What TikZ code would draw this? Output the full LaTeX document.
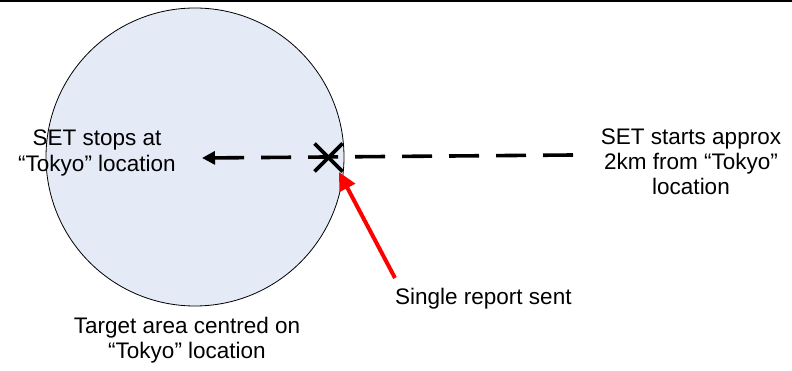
\documentclass[tikz,border=0pt]{standalone}
\usepackage{fontspec}
\setmainfont{Liberation Sans}
\usetikzlibrary{arrows.meta,calc}
\definecolor{areafill}{RGB}{228,234,246}
\tikzset{
  lbl/.style={inner sep=0pt, align=center, font=\fontsize{22.5pt}{25pt}\selectfont},
  area/.style={circle, draw=black, line width=0.8pt, fill=areafill, minimum size=298pt, inner sep=0pt},
  setpath/.style={line width=3.6pt, dash pattern=on 30pt off 17pt, -{Triangle[length=13pt,width=13pt]}},
  cross/.style={line width=3.6pt},
  report/.style={red, line width=4pt, -{Triangle[length=18pt,width=17pt]}}
}
\begin{document}
\begin{tikzpicture}[x=1pt,y=-1pt]
\useasboundingbox (0,0) rectangle (792,371);
\draw[line width=1.6pt] (0,0.8) -- (792,0.8);
\node[area] (target) at (195,157) {};
\coordinate (start) at (573,155);
\coordinate (stop) at (202,158);
\coordinate (x) at (328.5,157.5);
\coordinate (tail) at (395,278);
\coordinate (hit) at (339,172);
\draw[setpath] (start) -- (stop);
\draw[cross] ($(x)+(-14,-14)$) -- ($(x)+(14,14)$);
\draw[cross] ($(x)+(-14,14)$) -- ($(x)+(14,-14)$);
\draw[report] (tail) -- (hit);
\node[lbl, anchor=north, font=\fontsize{22.5pt}{26pt}\selectfont] (stoplbl) at (97,129.8) {SET stops at\\“Tokyo” location};
\node[lbl, anchor=north] (startlbl) at (691,128.6) {SET starts approx\\2km from “Tokyo”\\location};
\node[lbl, anchor=base west] (reportlbl) at (395,304) {Single report sent};
\node[lbl, anchor=north] (arealbl) at (187,316.5) {Target area centred on\\“Tokyo” location};
\end{tikzpicture}
\end{document}
